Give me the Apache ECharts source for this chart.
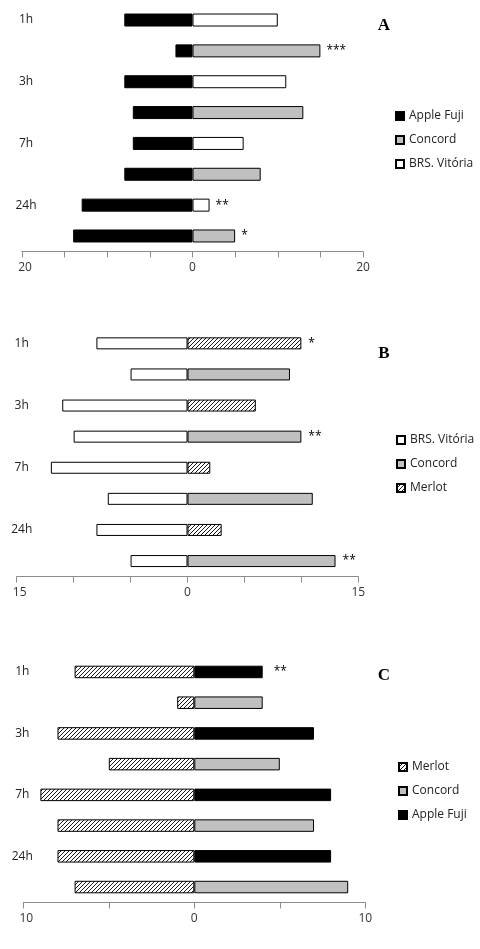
<!DOCTYPE html>
<html>
<head>
<meta charset="utf-8">
<script src="https://cdn.jsdelivr.net/npm/echarts@6/dist/echarts.min.js"></script>
<style>
html,body{margin:0;padding:0;background:#fff;}
#chart{width:480px;height:949px;}
</style>
</head>
<body>
<div id="chart"></div>
<script>
// ---- data ----
const hours = ['1h', '3h', '7h', '24h'];

// Panel A: Apple Fuji (left) vs BRS. Vitória / Concord (right)
const aFujiVsBrs = [8, 8, 7, 13];
const aBrs = [10, 11, 6, 2];
const aFujiVsConcord = [2, 7, 8, 14];
const aConcord = [15, 13, 8, 5];
const aMarksBrs = ['', '', '', '**'];
const aMarksConcord = ['***', '', '', '*'];

// Panel B: BRS. Vitória (left) vs Merlot / Concord (right)
const bBrsVsMerlot = [8, 11, 12, 8];
const bMerlot = [10, 6, 2, 3];
const bBrsVsConcord = [5, 10, 7, 5];
const bConcord = [9, 10, 11, 13];
const bMarksMerlot = ['*', '', '', ''];
const bMarksConcord = ['', '**', '', '**'];

// Panel C: Merlot (left) vs Apple Fuji / Concord (right)
const cMerlotVsFuji = [7, 8, 9, 8];
const cFuji = [4, 7, 8, 8];
const cMerlotVsConcord = [1, 5, 8, 7];
const cConcord = [4, 5, 7, 9];
const cMarksFuji = ['**', '', '', ''];
const cMarksConcord = ['', '', '', ''];

const axisMaxA = 20, axisMaxB = 15, axisMaxC = 10;
const tickStep = 5;

// ---- helpers ----
const rowLabels = [];
hours.forEach(h => { rowLabels.push(h, ''); });

function leftRows(first, second) {
  const out = [];
  for (let i = 0; i < first.length; i++) out.push(-first[i], -second[i]);
  return out;
}
function rightRows(vals, slot) {
  const out = [];
  for (let i = 0; i < vals.length; i++) {
    if (slot === 0) out.push(vals[i], '-'); else out.push('-', vals[i]);
  }
  return out;
}
function markRows(marks, slot) {
  const out = [];
  for (let i = 0; i < marks.length; i++) {
    if (slot === 0) out.push(marks[i], ''); else out.push('', marks[i]);
  }
  return out;
}

function hatchCanvas() {
  const c = document.createElement('canvas');
  c.width = 4; c.height = 4;
  const ctx = c.getContext('2d');
  ctx.fillStyle = '#fff';
  ctx.fillRect(0, 0, 4, 4);
  ctx.strokeStyle = '#000';
  ctx.lineWidth = 0.9;
  ctx.beginPath();
  ctx.moveTo(0, 4); ctx.lineTo(4, 0);
  ctx.moveTo(-1, 1); ctx.lineTo(1, -1);
  ctx.moveTo(3, 5); ctx.lineTo(5, 3);
  ctx.stroke();
  return c;
}
const hatch = { image: hatchCanvas(), repeat: 'repeat' };

const styles = {
  'Apple Fuji': { color: '#000000' },
  'Concord': { color: '#c0c0c0' },
  'BRS. Vitória': { color: '#ffffff' },
  'Merlot': { color: hatch }
};

const FONT = '"Open Sans", "Noto Sans", sans-serif';

function barSeries(name, idx, data, stack, barW, marks, dist) {
  const s = {
    type: 'bar', name: name, xAxisIndex: idx, yAxisIndex: idx,
    stack: stack, data: data, barWidth: barW,
    itemStyle: { color: styles[name].color, borderColor: '#000', borderWidth: 1 },
    emphasis: { disabled: true },
    animation: false
  };
  if (marks) {
    s.label = {
      show: true, position: 'right', distance: dist,
      color: '#000', fontFamily: FONT, fontSize: 12,
      formatter: p => marks[p.dataIndex] || ''
    };
  }
  return s;
}

const grids = [
  { left: 22, width: 341, top: 4.6, height: 246.8 },
  { left: 16.7, width: 341.6, top: 327.8, height: 248.8 },
  { left: 23.3, width: 342, top: 656.6, height: 245.8 }
];
const maxes = [axisMaxA, axisMaxB, axisMaxC];
const labelMargins = [-4, -5, 1];
const labelLift = [2, 6, 10];

const xAxes = maxes.map((m, i) => ({
  type: 'value', gridIndex: i, min: -m, max: m, interval: tickStep,
  axisLine: { show: true, lineStyle: { color: '#8c8c8c', width: 1 } },
  axisTick: { show: true, length: 6, lineStyle: { color: '#8c8c8c' } },
  splitLine: { show: false },
  axisLabel: {
    margin: 10, color: '#333', fontFamily: FONT, fontSize: 12,
    formatter: v => (v === -m ? '{l|' + m + '}' : (v === 0 || v === m) ? String(Math.abs(v)) : ''),
    rich: { l: { padding: [0, 0, 0, 6], color: '#333', fontFamily: FONT, fontSize: 12 } }
  }
}));

const yAxes = grids.map((g, i) => ({
  type: 'category', gridIndex: i, data: rowLabels, inverse: true,
  axisLine: { show: false }, axisTick: { show: false }, splitLine: { show: false },
  axisLabel: {
    margin: labelMargins[i], align: 'center', color: '#222',
    fontFamily: FONT, fontSize: 12, padding: [0, 0, labelLift[i], 0]
  }
}));

const series = [
  barSeries('Apple Fuji', 0, leftRows(aFujiVsBrs, aFujiVsConcord), 'A', 13),
  barSeries('BRS. Vitória', 0, rightRows(aBrs, 0), 'A', 13, markRows(aMarksBrs, 0), 6),
  barSeries('Concord', 0, rightRows(aConcord, 1), 'A', 13, markRows(aMarksConcord, 1), 6),

  barSeries('BRS. Vitória', 1, leftRows(bBrsVsMerlot, bBrsVsConcord), 'B', 12),
  barSeries('Merlot', 1, rightRows(bMerlot, 0), 'B', 12, markRows(bMarksMerlot, 0), 7),
  barSeries('Concord', 1, rightRows(bConcord, 1), 'B', 12, markRows(bMarksConcord, 1), 7),

  barSeries('Merlot', 2, leftRows(cMerlotVsFuji, cMerlotVsConcord), 'C', 12.5),
  barSeries('Apple Fuji', 2, rightRows(cFuji, 0), 'C', 12.5, markRows(cMarksFuji, 0), 11),
  barSeries('Concord', 2, rightRows(cConcord, 1), 'C', 12.5, markRows(cMarksConcord, 1), 11)
];

function legend(names, left, top) {
  return {
    data: names, orient: 'vertical', left: left, top: top,
    icon: 'rect', itemWidth: 8, itemHeight: 8, itemGap: 12,
    selectedMode: false,
    textStyle: { fontFamily: FONT, fontSize: 12, color: '#222' }
  };
}

const panelLetters = [
  { t: 'A', x: 384, y: 26 },
  { t: 'B', x: 384, y: 354 },
  { t: 'C', x: 384, y: 676 }
];

const option = {
  backgroundColor: '#fff',
  animation: false,
  grid: grids,
  xAxis: xAxes,
  yAxis: yAxes,
  legend: [
    legend(['Apple Fuji', 'Concord', 'BRS. Vitória'], 390, 105),
    legend(['BRS. Vitória', 'Concord', 'Merlot'], 391, 429),
    legend(['Merlot', 'Concord', 'Apple Fuji'], 393, 756)
  ],
  graphic: panelLetters.map(p => ({
    type: 'text', x: p.x, y: p.y,
    style: {
      text: p.t, fill: '#000', align: 'center', verticalAlign: 'middle',
      font: 'bold 17px "Liberation Serif", "Times New Roman", serif'
    }
  })),
  series: series
};

const chart = echarts.init(document.getElementById('chart'), null, { renderer: 'canvas' });
chart.setOption(option);
</script>
</body>
</html>
